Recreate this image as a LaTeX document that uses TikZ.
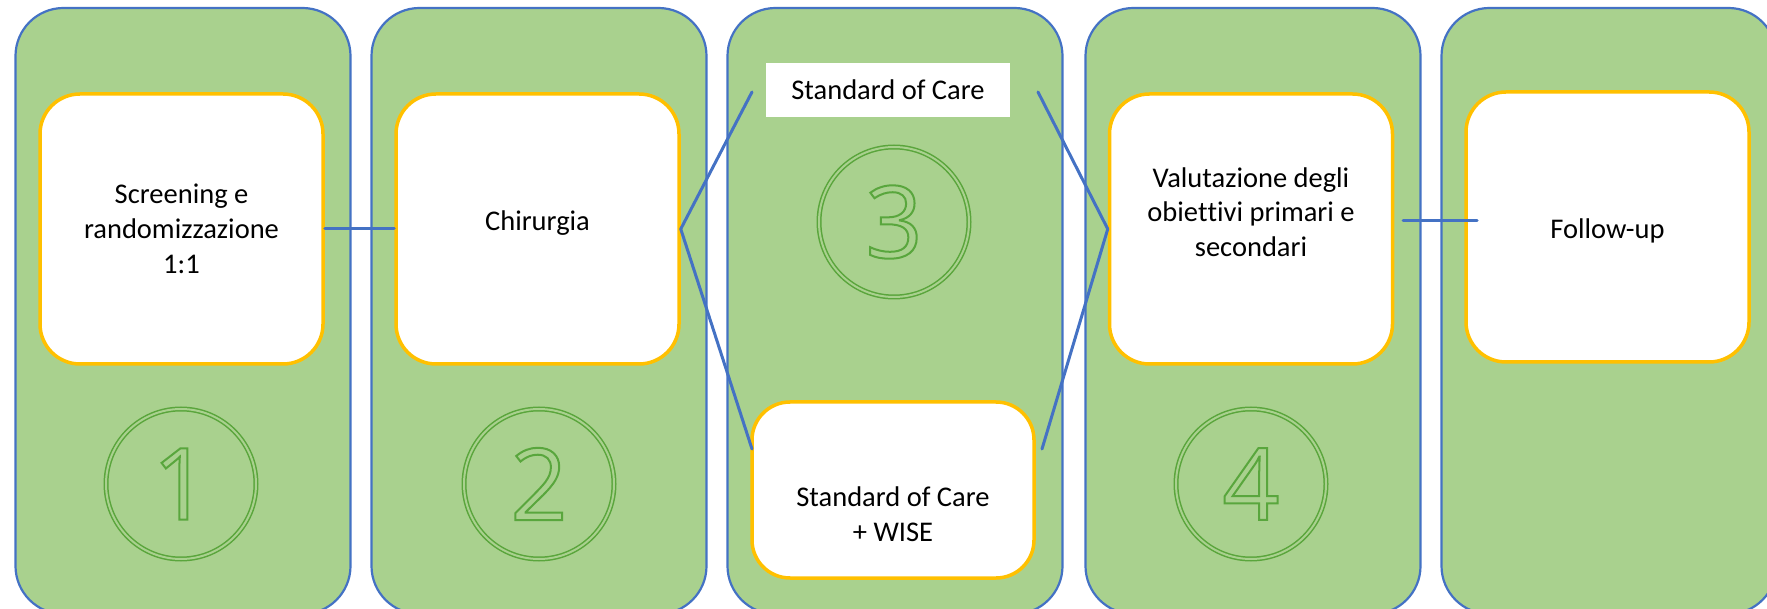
\documentclass[tikz,border=0pt]{standalone}
\usepackage{fontspec}
\setmainfont{Carlito}[Ligatures={NoCommon}]
\newfontfamily\digitfont{Open Sans}
\definecolor{panelfill}{HTML}{A9D18E}
\definecolor{panelblue}{HTML}{4472C4}
\definecolor{boxgold}{HTML}{FFC000}
\definecolor{ringgreen}{HTML}{5AA53C}
\newcommand\hollowdigit[1]{\special{pdf:literal direct 1 Tr 2 w 0.35 0.65 0.24 RG}#1\special{pdf:literal direct 0 Tr}}
\begin{document}
\begin{tikzpicture}[x=1pt,y=-1pt,
  panel/.style={draw=panelblue, line width=2.2pt, fill=panelfill, rounded corners=48pt,
    minimum width=335pt, minimum height=606pt, inner sep=0pt},
  stagebox/.style={draw=boxgold, line width=3.5pt, fill=white, rounded corners=40pt,
    minimum width=283pt, minimum height=270pt, inner sep=0pt},
  plainbox/.style={fill=white, minimum width=244pt, minimum height=54pt, inner sep=0pt,
    font=\fontsize{28.5}{34.7}\selectfont},
  boxtext/.style={align=center, inner sep=0pt, font=\fontsize{28.5}{34.7}\selectfont},
  numring/.style={circle, draw=ringgreen, double=panelfill, double distance=2pt,
    line width=1.5pt, minimum size=150pt, inner sep=0pt, text=ringgreen,
    font=\digitfont\fontsize{100}{100}\selectfont},
  link/.style={draw=panelblue, line width=3pt, line cap=round}]
\clip (0,0) rectangle (1767,609);
% panels
\node[panel] (p1) at (183,311) {};
\node[panel] (p2) at (539,311) {};
\node[panel] (p3) at (895,311) {};
\node[panel] (p4) at (1253,311) {};
\node[panel] (p5) at (1609,311) {};
% stage boxes
\node[stagebox] (b1) at (181.5,229) {};
\node[stagebox] (b2) at (537.5,229) {};
\node[stagebox] (b4) at (1251,229) {};
\node[stagebox] (b5) at (1607.5,227) {};
\node[plainbox] (sc1) at (888,90) {Standard of Care};
\node[stagebox, minimum width=282pt, minimum height=176pt, rounded corners=38pt] (sc2) at (893,490) {};
% texts
\node[boxtext] (t1) at (181.5,229) {Screening e\\randomizzazione\\1:1};
\node[boxtext] (t2) at (537.5,223) {Chirurgia};
\node[boxtext] (t4) at (1251,212) {Valutazione degli\\obie\kern0pt t\kern0pt t\kern0pt ivi primari e\\secondari};
\node[boxtext] (t5) at (1607.5,231) {Follow-up};
\node[boxtext] (t3) at (893,514) {Standard of Care\\+ WISE};
% number rings
\node[numring] (n1) at (181,484) {\hollowdigit{1}};
\node[numring] (n2) at (539,484) {\hollowdigit{2}};
\node[numring] (n3) at (894,222) {\hollowdigit{3}};
\node[numring] (n4) at (1251,484) {\hollowdigit{4}};
% connector ends
\coordinate (sc1in) at (752,92);
\coordinate (sc1out) at (1038,92);
\coordinate (sc2in) at (752,449);
\coordinate (sc2out) at (1042,449);
\coordinate (b4r) at (1403,221);
\coordinate (b5l) at (1477,221);
% connectors
\draw[link] (b1.east) -- (b2.west);
\draw[link] (b2.east) -- (sc1in);
\draw[link] (b2.east) -- (sc2in);
\draw[link] (sc1out) -- (b4.west);
\draw[link] (sc2out) -- (b4.west);
\draw[link] (b4r) -- (b5l);
\end{tikzpicture}
\end{document}
